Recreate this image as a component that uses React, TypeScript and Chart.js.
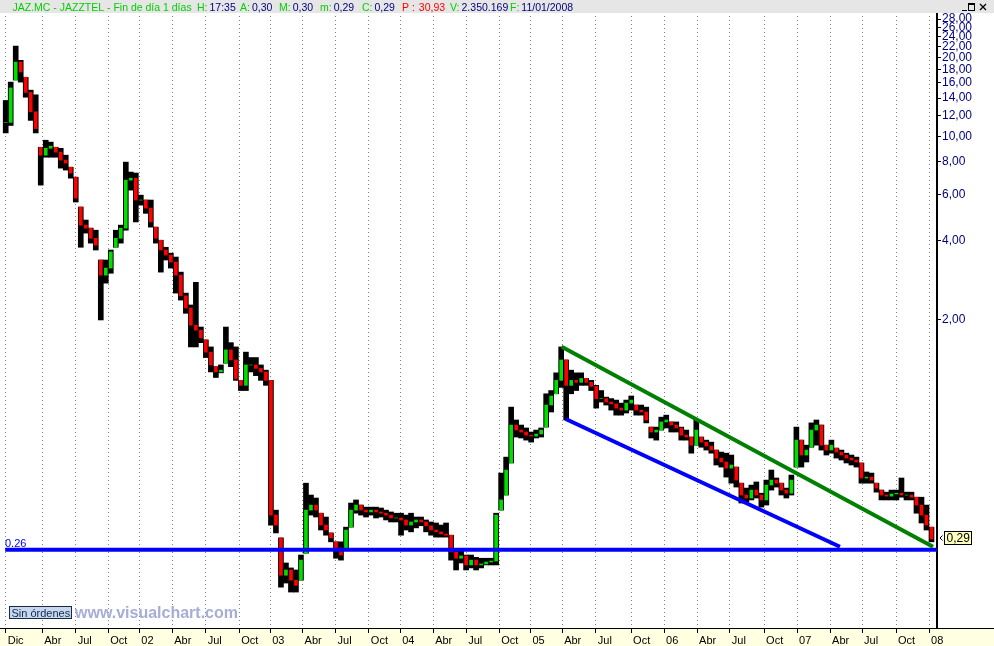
import React, { useEffect, useRef } from 'react';
import { Chart, registerables } from 'chart.js';

Chart.register(...registerables);

// ---- data (JAZ.MC, two-week samples from Dec 2000 to Jan 2008) ----
const highs: number[] = [
  13.7, 16.1, 22.1, 19.5, 16.8, 15.0, 14.4, 9.08, 9.66, 9.50,
  9.08, 9.00, 8.47, 7.62, 6.98, 5.37, 4.79, 4.46, 4.38, 3.37,
  3.37, 3.68, 4.38, 4.58, 7.97, 7.30, 7.24, 5.96, 5.71, 5.71,
  4.50, 4.01, 3.77, 3.58, 3.46, 3.03, 2.52, 2.27, 2.77, 1.87,
  1.67, 1.57, 1.32, 1.34, 1.87, 1.63, 1.57, 1.17, 1.50, 1.43,
  1.43, 1.34, 1.28, 1.17, 0.374, 0.293, 0.235, 0.225, 0.221, 0.252,
  0.474, 0.427, 0.416, 0.364, 0.352, 0.306, 0.283, 0.283, 0.322, 0.398,
  0.409, 0.391, 0.384, 0.384, 0.384, 0.381, 0.374, 0.368, 0.364, 0.364,
  0.358, 0.364, 0.352, 0.352, 0.343, 0.337, 0.334, 0.328, 0.334, 0.300,
  0.263, 0.263, 0.252, 0.252, 0.247, 0.245, 0.245, 0.245, 0.364, 0.518,
  0.596, 0.925, 0.826, 0.790, 0.770, 0.743, 0.756, 0.770, 1.04, 1.07,
  1.25, 1.57, 1.40, 1.28, 1.25, 1.25, 1.19, 1.17, 1.12, 1.07,
  1.01, 0.997, 0.984, 0.958, 0.984, 1.02, 0.942, 0.942, 0.925, 0.776,
  0.776, 0.847, 0.862, 0.812, 0.812, 0.776, 0.756, 0.711, 0.826, 0.711,
  0.692, 0.680, 0.634, 0.623, 0.617, 0.607, 0.546, 0.474, 0.454, 0.466,
  0.479, 0.434, 0.487, 0.532, 0.496, 0.474, 0.454, 0.509, 0.776, 0.692,
  0.662, 0.805, 0.826, 0.790, 0.662, 0.692, 0.645, 0.634, 0.617, 0.607,
  0.596, 0.566, 0.523, 0.518, 0.474, 0.446, 0.438, 0.446, 0.446, 0.496,
  0.438, 0.438, 0.419, 0.419, 0.391, 0.322,
];

const lows: number[] = [
  10.3, 11.0, 16.4, 16.1, 14.1, 11.5, 10.3, 6.51, 8.32, 8.32,
  8.32, 7.56, 7.43, 6.92, 5.61, 3.77, 4.27, 3.91, 3.68, 1.99,
  2.75, 3.00, 3.77, 3.91, 4.38, 6.23, 4.71, 5.46, 5.08, 4.50,
  3.91, 3.03, 3.37, 3.14, 2.52, 2.37, 2.11, 1.57, 1.57, 1.63,
  1.43, 1.26, 1.20, 1.25, 1.36, 1.32, 1.17, 1.07, 1.07, 1.26,
  1.22, 1.17, 1.12, 0.328, 0.306, 0.190, 0.197, 0.182, 0.182, 0.202,
  0.256, 0.358, 0.352, 0.314, 0.300, 0.283, 0.245, 0.241, 0.263, 0.322,
  0.364, 0.358, 0.352, 0.358, 0.349, 0.352, 0.343, 0.337, 0.337, 0.300,
  0.314, 0.309, 0.320, 0.326, 0.309, 0.300, 0.295, 0.295, 0.295, 0.241,
  0.221, 0.235, 0.221, 0.225, 0.221, 0.225, 0.231, 0.231, 0.231, 0.374,
  0.427, 0.566, 0.711, 0.705, 0.692, 0.680, 0.705, 0.711, 0.776, 0.886,
  1.04, 1.10, 0.826, 1.04, 1.07, 1.12, 1.12, 1.07, 0.917, 0.967,
  0.942, 0.901, 0.862, 0.862, 0.878, 0.901, 0.862, 0.862, 0.805, 0.705,
  0.692, 0.756, 0.770, 0.743, 0.743, 0.692, 0.692, 0.617, 0.662, 0.650,
  0.634, 0.617, 0.556, 0.546, 0.500, 0.474, 0.458, 0.398, 0.402, 0.409,
  0.416, 0.384, 0.391, 0.446, 0.458, 0.427, 0.416, 0.427, 0.546, 0.546,
  0.571, 0.650, 0.662, 0.634, 0.607, 0.617, 0.591, 0.581, 0.566, 0.556,
  0.546, 0.474, 0.474, 0.474, 0.438, 0.409, 0.409, 0.409, 0.409, 0.419,
  0.409, 0.409, 0.364, 0.334, 0.314, 0.283,
];

const closes: number[] = [
  11.3, 15.3, 19.2, 17.6, 14.7, 12.4, 10.7, 8.47, 9.00, 9.17,
  8.70, 8.11, 7.90, 7.24, 5.81, 4.58, 4.46, 4.08, 3.84, 2.95,
  3.14, 3.62, 4.08, 4.46, 6.80, 6.92, 5.71, 5.71, 5.32, 4.71,
  4.08, 3.68, 3.52, 3.31, 2.95, 2.46, 2.21, 1.90, 1.82, 1.70,
  1.50, 1.34, 1.26, 1.28, 1.53, 1.40, 1.19, 1.12, 1.34, 1.34,
  1.30, 1.26, 1.17, 0.358, 0.328, 0.211, 0.221, 0.202, 0.193, 0.241,
  0.374, 0.391, 0.374, 0.328, 0.314, 0.293, 0.268, 0.252, 0.314, 0.374,
  0.391, 0.374, 0.368, 0.374, 0.368, 0.364, 0.358, 0.349, 0.349, 0.343,
  0.328, 0.337, 0.343, 0.337, 0.326, 0.314, 0.309, 0.303, 0.300, 0.259,
  0.245, 0.250, 0.231, 0.241, 0.231, 0.233, 0.237, 0.239, 0.358, 0.409,
  0.532, 0.790, 0.756, 0.743, 0.723, 0.717, 0.730, 0.756, 0.942, 1.02,
  1.17, 1.40, 1.12, 1.17, 1.15, 1.19, 1.15, 1.11, 0.997, 0.997,
  0.967, 0.951, 0.917, 0.901, 0.958, 0.984, 0.901, 0.886, 0.826, 0.743,
  0.756, 0.812, 0.826, 0.790, 0.770, 0.723, 0.711, 0.662, 0.756, 0.680,
  0.657, 0.634, 0.591, 0.571, 0.541, 0.556, 0.487, 0.427, 0.416, 0.446,
  0.427, 0.409, 0.466, 0.487, 0.474, 0.446, 0.434, 0.487, 0.692, 0.607,
  0.634, 0.756, 0.790, 0.662, 0.634, 0.662, 0.623, 0.607, 0.591, 0.581,
  0.571, 0.496, 0.500, 0.487, 0.454, 0.427, 0.423, 0.431, 0.434, 0.427,
  0.427, 0.419, 0.391, 0.358, 0.328, 0.290,
];

// quarter ticks (positions in sample units) and their labels
const quarterTicks: number[] = [
  0, 7.31, 13.98, 20.5, 26.69, 33.28, 39.95, 46.66, 52.86, 59.33,
  65.92, 72.57, 78.83, 85.42, 92.01, 98.6, 104.87, 111.19, 117.92, 124.97,
  131.56, 138.15, 144.69, 151.55, 158.14, 164.73, 171.12, 177.91, 184.51,
];
const quarterLabels: string[] = [
  'Dic', 'Abr', 'Jul', 'Oct', '02', 'Abr', 'Jul', 'Oct', '03', 'Abr',
  'Jul', 'Oct', '04', 'Abr', 'Jul', 'Oct', '05', 'Abr', 'Jul', 'Oct',
  '06', 'Abr', 'Jul', 'Oct', '07', 'Abr', 'Jul', 'Oct', '08',
];

const yTickValues: number[] = [2, 4, 6, 8, 10, 12, 14, 16, 18, 20, 22, 24, 26, 28];

// drawn studies
const greenTrendX: number[] = [111.1, 185.3];
const greenTrendY: number[] = [1.572, 0.271];
const blueTrendX: number[] = [111.9, 166.7];
const blueTrendY: number[] = [0.833, 0.271];
const supportLevel = 0.264;
const supportX: number[] = [-0.1, 186.2];

const xMin = -1.14;
const xMax = 186.1;
const yMin = 0.1327;
const yMax = 29.3;

const headerTitle = 'JAZ.MC - JAZZTEL - Fin de día 1 días';
const headerLabels: string[] = ['H:', 'A:', 'M:', 'm:', 'C:', 'P :', 'V:', 'F:'];
const headerValues: string[] = ['17:35', '0,30', '0,30', '0,29', '0,29', '30,93', '2.350.169', '11/01/2008'];

const FONT = 'Arial, "Liberation Sans", sans-serif';

const decorPlugin = {
  id: 'decor',
  beforeDraw(chart: any) {
    const { ctx, width, height, chartArea } = chart;
    ctx.save();
    ctx.fillStyle = '#ffffff';
    ctx.fillRect(0, 0, width, height);
    ctx.fillStyle = '#e6e6e6';
    ctx.fillRect(0, 0, width, chartArea.top - 1);
    ctx.fillStyle = '#ffffe1';
    ctx.fillRect(0, chartArea.bottom, width, height - chartArea.bottom);
    ctx.strokeStyle = '#000';
    ctx.lineWidth = 1;
    ctx.beginPath();
    ctx.moveTo(0, chartArea.bottom + 0.5);
    ctx.lineTo(width, chartArea.bottom + 0.5);
    ctx.stroke();
    ctx.restore();
  },
  beforeDatasetsDraw(chart: any) {
    const { ctx, chartArea } = chart;
    const xs = chart.scales.x;
    ctx.save();
    ctx.strokeStyle = '#808080';
    ctx.lineWidth = 1;
    ctx.setLineDash([1, 3]);
    ctx.beginPath();
    quarterTicks.forEach((v) => {
      const px = Math.floor(xs.getPixelForValue(v)) + 0.5;
      ctx.moveTo(px, chartArea.top + 2);
      ctx.lineTo(px, chartArea.bottom);
    });
    ctx.stroke();
    ctx.restore();
  },
  afterDraw(chart: any) {
    const { ctx } = chart;
    const yScale = chart.scales.y;
    ctx.save();

    // header
    ctx.font = `10.5px ${FONT}`;
    ctx.textBaseline = 'alphabetic';
    const green = '#00d000';
    const navy = '#000080';
    const red = '#ff0000';
    const labelX = [197, 240, 279, 320, 362, 402, 450, 510];
    ctx.fillStyle = green;
    ctx.fillText(headerTitle, 12.5, 11);
    headerLabels.forEach((lab, i) => {
      const isP = lab.startsWith('P');
      ctx.fillStyle = isP ? red : green;
      ctx.fillText(lab, labelX[i], 11);
      const w = ctx.measureText(lab).width;
      ctx.fillStyle = isP ? red : navy;
      ctx.fillText(headerValues[i], labelX[i] + w + (isP ? 4 : 2), 11);
    });

    // window buttons
    ctx.strokeStyle = '#000';
    ctx.lineWidth = 1;
    ctx.beginPath();
    ctx.moveTo(962, 10.5); ctx.lineTo(967, 10.5);
    ctx.stroke();
    ctx.strokeRect(968.5, 3.5, 6, 7);
    ctx.beginPath();
    ctx.moveTo(968.5, 4.5); ctx.lineTo(974.5, 4.5);
    ctx.stroke();
    ctx.lineWidth = 1.3;
    ctx.beginPath();
    ctx.moveTo(980, 4); ctx.lineTo(986, 10);
    ctx.moveTo(986, 4); ctx.lineTo(980, 10);
    ctx.stroke();

    // support label
    const sy = yScale.getPixelForValue(supportLevel);
    ctx.font = `11px ${FONT}`;
    ctx.fillStyle = '#0000ff';
    ctx.fillText(supportLevel.toFixed(2), 5, sy - 3);

    // last price marker
    const last = closes[closes.length - 1];
    const ly = Math.round(yScale.getPixelForValue(last)) - 1;
    ctx.strokeStyle = '#000';
    ctx.lineWidth = 1;
    ctx.beginPath();
    ctx.moveTo(942.5, ly - 2.5); ctx.lineTo(940, ly); ctx.lineTo(942.5, ly + 2.5);
    ctx.stroke();
    ctx.fillStyle = '#ffffc0';
    ctx.fillRect(944, ly - 7, 28, 14);
    ctx.strokeRect(944.5, ly - 6.5, 27, 13);
    ctx.fillStyle = '#000';
    ctx.font = `12px ${FONT}`;
    ctx.textBaseline = 'middle';
    ctx.fillText(last.toFixed(2).replace('.', ','), 946.5, ly + 0.5);

    // order box and watermark
    ctx.textBaseline = 'alphabetic';
    ctx.fillStyle = '#c8d7f0';
    ctx.fillRect(9, 606, 63, 13);
    ctx.strokeStyle = '#1a2a3a';
    ctx.strokeRect(9.5, 606.5, 62, 12);
    ctx.fillStyle = '#0c2c4c';
    ctx.font = `11px ${FONT}`;
    ctx.fillText('Sin órdenes', 11.5, 616.5);
    ctx.fillStyle = '#a6add6';
    ctx.font = `bold 16px ${FONT}`;
    ctx.fillText('www.visualchart.com', 75, 617.5);

    ctx.restore();
  },
};

export default function App() {
  const ref = useRef<HTMLCanvasElement>(null);

  useEffect(() => {
    document.body.style.margin = '0';
    const canvas = ref.current;
    if (!canvas) return;

    const opens = closes.map((c, i) => (i === 0 ? c : closes[i - 1]));
    const wickData = closes.map((_, i) => ({ x: i, y: [lows[i], highs[i]] }));
    const bodyData = closes.map((c, i) => {
      const o = Math.min(highs[i], Math.max(lows[i], opens[i]));
      return { x: i, y: [o, c] };
    });
    const bodyColors = closes.map((c, i) => (c >= opens[i] ? '#00e000' : '#ff0000'));

    const chart = new Chart(canvas, {
      type: 'bar',
      data: {
        datasets: [
          {
            type: 'line',
            data: greenTrendX.map((x, i) => ({ x, y: greenTrendY[i] })),
            borderColor: '#008000',
            borderWidth: 4,
            pointRadius: 0,
            order: 0,
          } as any,
          {
            type: 'line',
            data: blueTrendX.map((x, i) => ({ x, y: blueTrendY[i] })),
            borderColor: '#0000ff',
            borderWidth: 4,
            pointRadius: 0,
            order: 0,
          } as any,
          {
            type: 'line',
            data: supportX.map((x) => ({ x, y: supportLevel })),
            borderColor: '#0000ff',
            borderWidth: 4,
            pointRadius: 0,
            order: 0,
          } as any,
          {
            type: 'bar',
            data: bodyData,
            backgroundColor: bodyColors,
            barThickness: 3,
            grouped: false,
            order: 1,
          } as any,
          {
            type: 'bar',
            data: wickData,
            backgroundColor: '#000000',
            barThickness: 5,
            grouped: false,
            order: 2,
          } as any,
        ],
      },
      options: {
        responsive: false,
        animation: false,
        events: [],
        layout: { padding: { top: 14, left: 0, right: 0, bottom: 0 } },
        plugins: { legend: { display: false }, tooltip: { enabled: false } },
        scales: {
          x: {
            type: 'linear',
            position: 'bottom',
            min: xMin,
            max: xMax,
            bounds: 'data',
            offset: false,
            grid: {
              offset: false,
              color: '#808080',
              lineWidth: 1,
              drawOnChartArea: false,
              drawTicks: true,
              tickLength: 5,
              tickColor: '#000000',
              tickWidth: 1,
              tickBorderDash: [],
            },
            border: { display: false },
            ticks: {
              autoSkip: false,
              maxRotation: 0,
              minRotation: 0,
              align: 'start',
              labelOffset: 2,
              padding: 1,
              color: '#000000',
              font: { family: FONT, size: 11 },
              callback: (_v: any, i: number) => quarterLabels[i] ?? '',
            },
            afterBuildTicks: (s: any) => {
              s.ticks = quarterTicks.map((v) => ({ value: v }));
            },
            afterFit: (s: any) => {
              s.height = 18;
              s.paddingLeft = 0;
              s.paddingRight = 0;
            },
          } as any,
          y: {
            type: 'logarithmic',
            position: 'right',
            min: yMin,
            max: yMax,
            bounds: 'data',
            grid: {
              drawOnChartArea: false,
              drawTicks: true,
              tickLength: 4,
              tickColor: '#000000',
              offset: false,
            },
            border: { display: true, color: '#000000', width: 2 },
            ticks: {
              autoSkip: false,
              padding: 1,
              color: '#000080',
              font: { family: FONT, size: 12 },
              callback: (v: any) => Number(v).toFixed(2).replace('.', ','),
            },
            afterBuildTicks: (s: any) => {
              s.ticks = yTickValues.map((v) => ({ value: v }));
            },
            afterFit: (s: any) => {
              s.width = 57;
              s.paddingTop = 0;
              s.paddingBottom = 0;
            },
          } as any,
        },
      },
      plugins: [decorPlugin],
    });

    return () => chart.destroy();
  }, []);

  return (
    <div style={{ width: 994, height: 646 }}>
      <canvas ref={ref} width={994} height={646} style={{ display: 'block' }} />
    </div>
  );
}
